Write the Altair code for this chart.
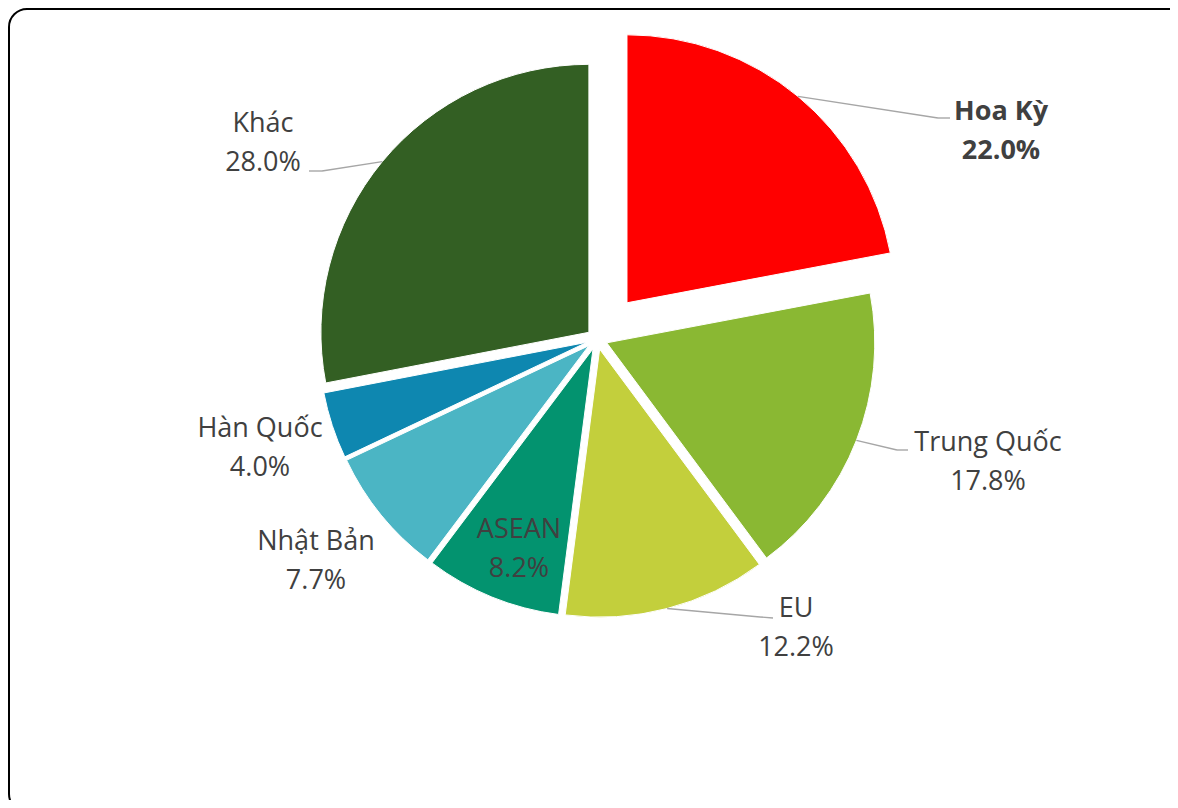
import altair as alt
import pandas as pd

# ---------------- data ----------------
CATEGORIES = ["Hoa Kỳ", "Trung Quốc", "EU", "ASEAN", "Nhật Bản", "Hàn Quốc", "Khác"]
SHARES = [22.0, 17.8, 12.2, 8.2, 7.7, 4.0, 28.0]

# ---------------- style ----------------
COLORS = ["#FF0000", "#8AB833", "#C3CF3C", "#03936F", "#4BB5C4", "#0E87B0", "#335F23"]
W, H = 1162, 792
CX, CY = 589, 331          # pie centre (view px)
R = 268                    # pie radius
EXPLODE = {"Hoa Kỳ": 47}   # slice pull-out, px
EXPLODE_DEFAULT = 10.5
FONT = "Open Sans"
FONT_SIZE = 27
TEXT_COLOR = "#404040"
LEADER_COLOR = "#A6A6A6"

# first-line anchor of each label (view px)
LABEL_POS = {
    "Hoa Kỳ": (993, 104),
    "Trung Quốc": (980, 435),
    "EU": (788, 601),
    "ASEAN": (511, 522),
    "Nhật Bản": (308, 534),
    "Hàn Quốc": (252, 421),
    "Khác": (255, 116),
}
# leader elbow and end points (view px); start is on the slice rim
LEADERS = {
    "Hoa Kỳ": (930, 110, 942, 110),
    "Trung Quốc": (889, 442, 900, 442),
    "EU": (752, 609, 765, 610),
    "Khác": (314, 163, 301, 163),
}

df = pd.DataFrame({"cat": CATEGORIES, "share": SHARES, "order": list(range(len(CATEGORIES)))})

style_rows = []
for c in CATEGORIES:
    lx, ly = LABEL_POS[c]
    row = {"cat": c, "off": EXPLODE.get(c, EXPLODE_DEFAULT), "lx": lx, "ly": ly,
           "has_leader": 1 if c in LEADERS else 0}
    ex, ey, fx, fy = LEADERS.get(c, (0, 0, 0, 0))
    row.update({"ex": ex, "ey": ey, "fx": fx, "fy": fy})
    style_rows.append(row)
style = pd.DataFrame(style_rows)

base = (
    alt.Chart(df)
    .transform_lookup(
        lookup="cat",
        from_=alt.LookupData(style, "cat", ["off", "lx", "ly", "has_leader", "ex", "ey", "fx", "fy"]),
    )
    .transform_joinaggregate(total="sum(share)")
    .transform_window(cum="sum(share)", sort=[alt.SortField("order")], frame=[None, 0])
    .transform_calculate(t0="2*PI*(datum.cum - datum.share)/datum.total")
    .transform_calculate(t1="2*PI*datum.cum/datum.total")
    .transform_calculate(mid="(datum.t0 + datum.t1)/2")
    .transform_calculate(cx=f"{CX} + datum.off*sin(datum.mid)")
    .transform_calculate(cy=f"{CY} - datum.off*cos(datum.mid)")
    .transform_calculate(sx=f"datum.cx + {R}*sin(datum.mid)")
    .transform_calculate(sy=f"datum.cy - {R}*cos(datum.mid)")
    .transform_calculate(label="datum.cat + '\\n' + format(datum.share, '.1f') + '%'")
)

arcs = base.mark_arc(radius=R, stroke="white", strokeWidth=1).encode(
    theta=alt.Theta("t0:Q", scale=None, stack=None),
    theta2=alt.Theta2("t1:Q"),
    x=alt.X("cx:Q", scale=None, axis=None),
    y=alt.Y("cy:Q", scale=None, axis=None),
    color=alt.Color("cat:N", scale=alt.Scale(domain=CATEGORIES, range=COLORS), legend=None),
)

lead = base.transform_filter("datum.has_leader == 1")
leader1 = lead.mark_rule(color=LEADER_COLOR, strokeWidth=1.4).encode(
    x=alt.X("sx:Q", scale=None, axis=None),
    y=alt.Y("sy:Q", scale=None, axis=None),
    x2="ex:Q",
    y2="ey:Q",
)
leader2 = lead.mark_rule(color=LEADER_COLOR, strokeWidth=1.4).encode(
    x=alt.X("ex:Q", scale=None, axis=None),
    y=alt.Y("ey:Q", scale=None, axis=None),
    x2="fx:Q",
    y2="fy:Q",
)

text_props = dict(font=FONT, fontSize=FONT_SIZE, color=TEXT_COLOR, lineBreak="\n",
                  lineHeight=39, align="center", baseline="middle")
labels = base.transform_filter("datum.cat != 'Hoa Kỳ'").mark_text(**text_props).encode(
    x=alt.X("lx:Q", scale=None, axis=None),
    y=alt.Y("ly:Q", scale=None, axis=None),
    text="label:N",
)
labels_bold = base.transform_filter("datum.cat == 'Hoa Kỳ'").mark_text(fontWeight="bold", **text_props).encode(
    x=alt.X("lx:Q", scale=None, axis=None),
    y=alt.Y("ly:Q", scale=None, axis=None),
    text="label:N",
)

border = alt.Chart(pd.DataFrame({"a": [0]})).mark_rect(
    fillOpacity=0, stroke="black", strokeWidth=2, cornerRadius=18, clip=True
).encode(
    x=alt.value(1), x2=alt.value(W + 20), y=alt.value(1), y2=alt.value(H + 12)
)

chart = (
    alt.layer(border, arcs, leader1, leader2, labels, labels_bold)
    .properties(width=W, height=H, padding=0, autosize="none")
    .configure_view(stroke=None)
)

chart.save("out.html", embed_options={"renderer": "svg", "actions": False})
